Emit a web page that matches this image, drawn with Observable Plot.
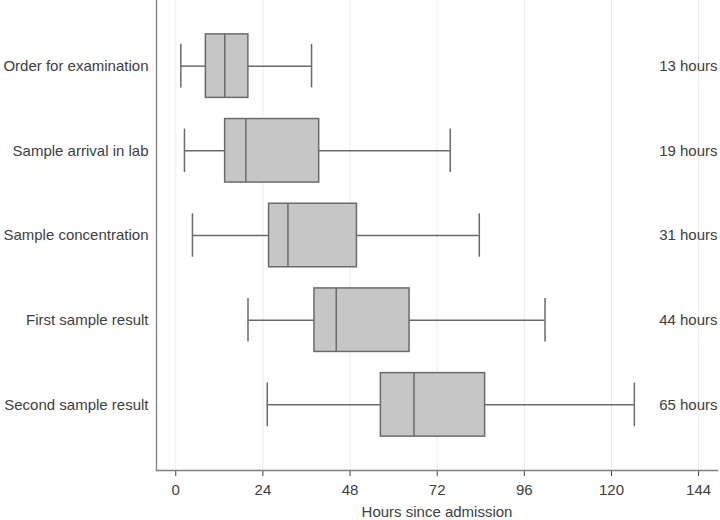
<!DOCTYPE html>
<html>
<head>
<meta charset="utf-8">
<script src="https://cdn.jsdelivr.net/npm/d3@7"></script>
<script src="https://cdn.jsdelivr.net/npm/@observablehq/plot@0.6"></script>
<style>
  html, body { margin: 0; padding: 0; background: #fff; }
  #chart svg { display: block; }
</style>
</head>
<body>
<div id="chart"></div>
<script>
const categories = ["Order for examination", "Sample arrival in lab", "Sample concentration", "First sample result", "Second sample result"];
const whiskerLow  = [1.4, 2.4, 4.6, 19.9, 25.2];
const q1          = [8.3, 13.6, 25.7, 38.2, 56.5];
const median      = [13.5, 19.3, 30.9, 44.2, 65.6];
const q3          = [20.0, 39.5, 49.9, 64.4, 85.2];
const whiskerHigh = [37.4, 75.6, 83.6, 101.7, 126.3];
const medianLabels = ["13 hours", "19 hours", "31 hours", "44 hours", "65 hours"];
const xTicks = [0, 24, 48, 72, 96, 120, 144];

const data = categories.map((c, i) => ({
  cat: c, lo: whiskerLow[i], q1: q1[i], med: median[i], q3: q3[i], hi: whiskerHigh[i], label: medianLabels[i]
}));

const lineColor = "#6a6a6a";
const textColor = "#404040";
const chart = Plot.plot({
  width: 720,
  height: 520,
  marginLeft: 156,
  marginRight: 3,
  marginTop: 0,
  marginBottom: 50,
  style: {fontFamily: "'Liberation Sans', Arial, Helvetica, sans-serif", fontSize: "15px", color: textColor, background: "#fff"},
  x: {domain: [-5.3, 149.2], ticks: xTicks, label: "Hours since admission", labelAnchor: "center", labelArrow: "none", tickSize: 6, tickPadding: 8, labelOffset: 46},
  y: {domain: categories, paddingInner: 0.25, paddingOuter: 0.4, round: false, label: null, tickSize: 0, tickPadding: 8},
  marks: [
    Plot.gridX(xTicks, {stroke: "#ebebeb", strokeOpacity: 1, strokeWidth: 1}),
    Plot.frame({anchor: "left", stroke: "#808080", strokeWidth: 1.3}),
    Plot.frame({anchor: "bottom", stroke: "#808080", strokeWidth: 1.3}),
    Plot.ruleY(data, {y: "cat", x1: "lo", x2: "q1", stroke: lineColor, strokeWidth: 1.5}),
    Plot.ruleY(data, {y: "cat", x1: "q3", x2: "hi", stroke: lineColor, strokeWidth: 1.5}),
    Plot.tickX(data, {x: "lo", y: "cat", stroke: lineColor, strokeWidth: 1.5, insetTop: 10, insetBottom: 10}),
    Plot.tickX(data, {x: "hi", y: "cat", stroke: lineColor, strokeWidth: 1.5, insetTop: 10, insetBottom: 10}),
    Plot.barX(data, {x1: "q1", x2: "q3", y: "cat", fill: "#c6c6c6", stroke: lineColor, strokeWidth: 1.5}),
    Plot.tickX(data, {x: "med", y: "cat", stroke: lineColor, strokeWidth: 1.5}),
    Plot.text(data, {y: "cat", text: "label", frameAnchor: "right", textAnchor: "end", fill: textColor, fontSize: 15})
  ]
});
document.getElementById("chart").appendChild(chart);
</script>
</body>
</html>
